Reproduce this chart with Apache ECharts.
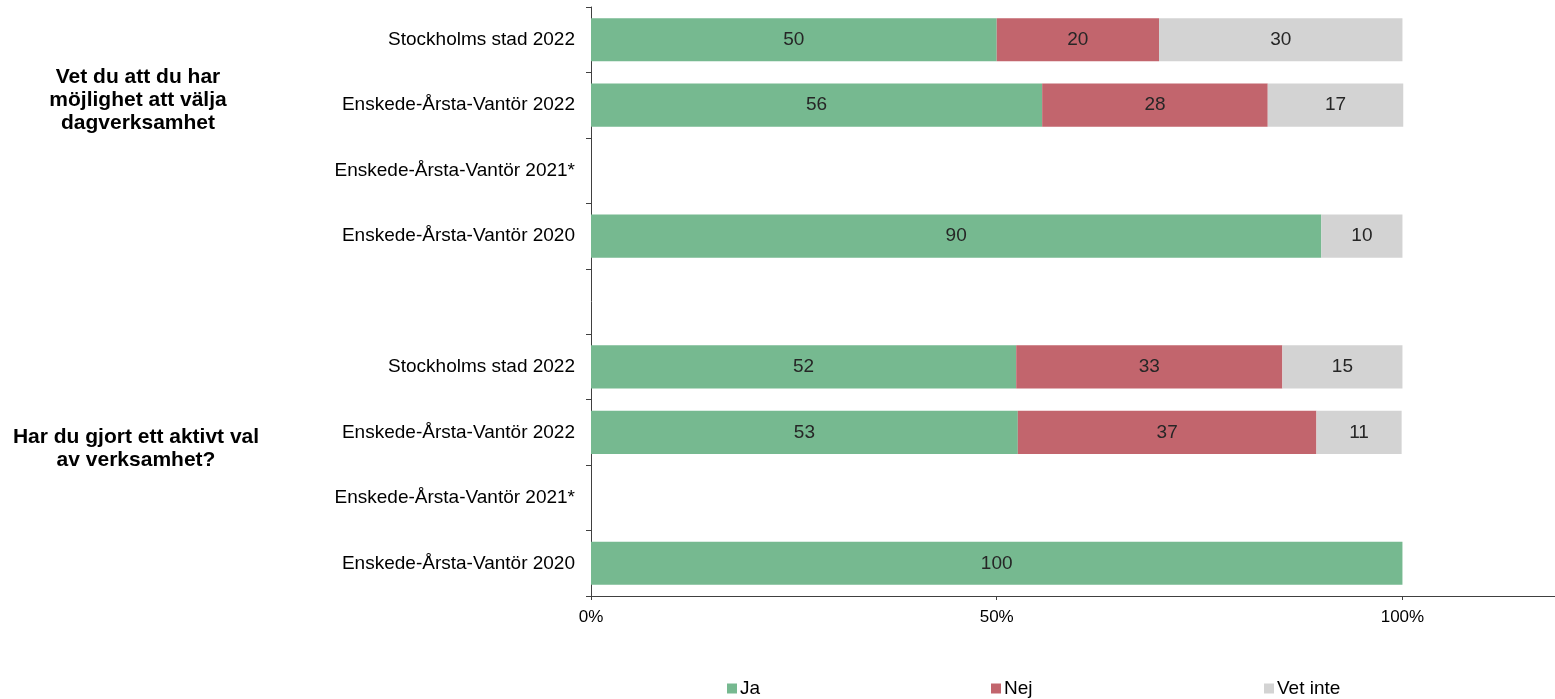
<!DOCTYPE html>
<html>
<head>
<meta charset="utf-8">
<script src="https://cdn.jsdelivr.net/npm/echarts@6/dist/echarts.min.js"></script>
<style>html,body{margin:0;padding:0;background:#fff}#c{width:1555px;height:699px}</style>
</head>
<body>
<div id="c"></div>
<script>
const categories = ['Stockholms stad 2022','Enskede-Årsta-Vantör 2022','Enskede-Årsta-Vantör 2021*','Enskede-Årsta-Vantör 2020','','Stockholms stad 2022','Enskede-Årsta-Vantör 2022','Enskede-Årsta-Vantör 2021*','Enskede-Årsta-Vantör 2020'];
const ja = [50, 55.6, null, 90, null, 52.4, 52.6, null, 100];
const nej = [20, 27.8, null, null, null, 32.8, 36.8, null, null];
const vetInte = [30, 16.7, null, 10, null, 14.8, 10.5, null, null];
const seriesNames = ['Ja','Nej','Vet inte'];
const xTicks = [0, 50, 100];
const groupTitles = ['Vet du att du har\nmöjlighet att välja\ndagverksamhet', 'Har du gjort ett aktivt val\nav verksamhet?'];

const FONT = '"Liberation Sans", Arial, sans-serif';
const colors = ['#76B990', '#C2656D', '#D3D3D3'];
const chart = echarts.init(document.getElementById('c'), null, {renderer:'canvas'});

function mk(name, data, color){
  return {
    name, type:'bar', stack:'s', data, barWidth:'66%',
    itemStyle:{color},
    label:{show:true, position:'inside', color:'#262626', fontFamily:FONT, fontSize:19,
      formatter:p => (p.value==null||p.value===0)?'':String(Math.round(p.value))}
  };
}
const legendBase = {orient:'horizontal', top:674, itemWidth:10, itemHeight:10, icon:'rect', itemGap:4,
  textStyle:{fontFamily:FONT, fontSize:19, color:'#000', padding:[0,0,0,-2]}};

chart.setOption({
  animation:false,
  grid:{left:591, top:7, right:0, bottom:103, containLabel:false, outerBoundsMode:'none'},
  xAxis:{type:'value', min:0, max:118.8, interval:50,
    axisLine:{show:true, lineStyle:{color:'#404040'}},
    axisTick:{show:true, length:4, lineStyle:{color:'#404040'}},
    splitLine:{show:false},
    axisLabel:{fontFamily:FONT, fontSize:17, color:'#000', margin:13,
      formatter:v => xTicks.includes(v) ? v+'%' : ''}},
  yAxis:{type:'category', data:categories, inverse:true,
    axisLine:{show:true, lineStyle:{color:'#404040'}},
    axisTick:{show:true, length:5, alignWithLabel:false, lineStyle:{color:'#404040'}},
    axisLabel:{fontFamily:FONT, fontSize:19, color:'#000', margin:16}},
  legend:[
    Object.assign({}, legendBase, {left:722, data:[seriesNames[0]]}),
    Object.assign({}, legendBase, {left:986, data:[seriesNames[1]]}),
    Object.assign({}, legendBase, {left:1259, data:[seriesNames[2]]})
  ],
  graphic:[
    {type:'text', style:{text:groupTitles[0], x:138, y:100, textAlign:'center', textVerticalAlign:'middle',
      font:'bold 21px '+FONT, fill:'#000', lineHeight:23}},
    {type:'text', style:{text:groupTitles[1], x:136, y:449, textAlign:'center', textVerticalAlign:'middle',
      font:'bold 21px '+FONT, fill:'#000', lineHeight:23}}
  ],
  series:[mk(seriesNames[0], ja, colors[0]), mk(seriesNames[1], nej, colors[1]), mk(seriesNames[2], vetInte, colors[2])]
});
</script>
</body>
</html>
